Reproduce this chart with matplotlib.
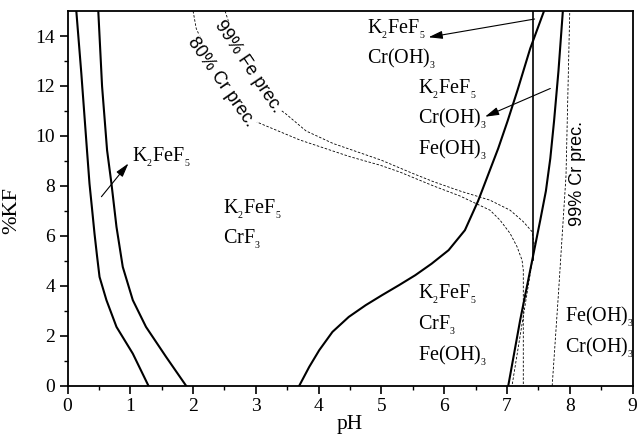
import matplotlib
matplotlib.use("Agg")
from matplotlib import pyplot as plt

# phase boundaries (pH, %KF)
left1_ph = [0.14, 0.22, 0.31, 0.35, 0.39, 0.43, 0.47, 0.51, 0.62, 0.78, 1.04, 1.29]
left1_kf = [15, 12.5, 9.43, 8.09, 7.1, 6.09, 5.2, 4.36, 3.43, 2.36, 1.29, 0]
left2_ph = [0.49, 0.55, 0.63, 0.70, 0.78, 0.88, 1.04, 1.25, 1.57, 1.89]
left2_kf = [15, 12, 9.43, 8.09, 6.36, 4.76, 3.43, 2.36, 1.16, 0]
s_ph = [3.69, 3.85, 4.01, 4.22, 4.48, 4.75, 5.01, 5.28, 5.54, 5.80, 6.07, 6.33,
        6.54, 6.70, 6.86, 7.01, 7.17, 7.37, 7.59]
s_kf = [0, 0.76, 1.43, 2.16, 2.76, 3.23, 3.63, 4.03, 4.43, 4.89, 5.43, 6.23,
        7.40, 8.45, 9.50, 10.6, 11.85, 13.5, 15]
steep_ph = [7.02, 7.21, 7.37, 7.53, 7.62, 7.69, 7.75, 7.82, 7.89]
steep_kf = [0, 2.63, 4.63, 6.63, 7.8, 9.1, 10.6, 12.6, 15]
vert_ph = [7.41, 7.41]
vert_kf = [5.05, 15]

# precipitation contours
fe99_ph = [2.51, 2.60, 2.75, 2.88, 3.05, 3.25, 3.47, 3.80, 4.23, 5.00, 5.50, 5.83,
           6.25, 6.73, 7.05, 7.26, 7.40, 7.44, 7.08]
fe99_kf = [15, 14.3, 13.5, 12.76, 12.0, 11.3, 10.9, 10.2, 9.7, 9.03, 8.5, 8.17,
           7.8, 7.43, 7.03, 6.57, 6.17, 5.57, 0]
cr80_ph = [2.00, 2.05, 2.25, 2.45, 2.70, 2.90, 3.07, 3.70, 4.50, 4.98, 5.30, 5.83,
           6.25, 6.73, 6.89, 7.05, 7.16, 7.24, 7.26, 7.26]
cr80_kf = [15, 14.3, 13.2, 12.15, 11.2, 10.7, 10.5, 9.84, 9.17, 8.83, 8.55, 8.0,
           7.6, 7.03, 6.63, 6.1, 5.57, 5.03, 4.63, 0]
cr99_ph = [7.72, 7.82, 7.94, 8.00]
cr99_kf = [0, 3.7, 8.4, 15]

# region labels: (left pH, baseline %KF of each line, lines)
regions = [
    (2.48, [6.90, 5.67], ["K$_{_2}$FeF$_{_5}$", "CrF$_{_3}$"]),
    (5.59, [3.47, 2.23, 0.98], ["K$_{_2}$FeF$_{_5}$", "CrF$_{_3}$", "Fe(OH)$_{_3}$"]),
    (7.93, [2.56, 1.31], ["Fe(OH)$_{_3}$", "Cr(OH)$_{_3}$"]),
    (4.77, [14.10, 12.90], ["K$_{_2}$FeF$_{_5}$", "Cr(OH)$_{_3}$"]),
    (5.59, [11.70, 10.50, 9.24], ["K$_{_2}$FeF$_{_5}$", "Cr(OH)$_{_3}$", "Fe(OH)$_{_3}$"]),
    (1.02, [8.97], ["K$_{_2}$FeF$_{_5}$"]),
]

# arrows: (tail, head)
arrows = [
    ((0.54, 7.57), (0.97, 8.90)),
    ((7.44, 14.68), (5.75, 13.95)),
    ((7.69, 11.90), (6.65, 10.77)),
]

plt.rcParams['font.family'] = 'Liberation Serif'
plt.rcParams['mathtext.fontset'] = 'custom'
plt.rcParams['mathtext.rm'] = 'Liberation Serif'
plt.rcParams['mathtext.it'] = 'Liberation Serif'
plt.rcParams['mathtext.default'] = 'rm'

fig = plt.figure(figsize=(6.37, 4.41), dpi=100)
ax = fig.add_axes([0.106, 0.125, 0.887, 0.850])

solid = dict(color='k', lw=1.5)
ax.plot(left1_ph, left1_kf, **solid)
ax.plot(left2_ph, left2_kf, **solid)
ax.plot(s_ph, s_kf, **solid)
ax.plot(steep_ph, steep_kf, **solid)
ax.plot(vert_ph, vert_kf, color='k', lw=1.2)

dashed = dict(color='k', lw=0.6, linestyle=(0, (3, 2)))
ax.plot(fe99_ph, fe99_kf, **dashed)
ax.plot(cr80_ph, cr80_kf, **dashed)
ax.plot(cr99_ph, cr99_kf, **dashed)

sans = dict(family='Liberation Sans', fontsize=13, ha='center', va='center',
            bbox=dict(facecolor='white', edgecolor='none', pad=0.5))
ax.text(2.88, 12.76, "99% Fe prec.", rotation=-56, rotation_mode='anchor', **sans)
ax.text(2.45, 12.15, "80% Cr prec.", rotation=-55, rotation_mode='anchor', **sans)
ax.text(8.12, 8.5, "99% Cr prec.", rotation=90, rotation_mode='anchor', **sans)

for x, ys, lines in regions:
    for y, line in zip(ys, lines):
        ax.text(x, y, line, fontsize=14.5, ha='left', va='baseline')

arrow_style = dict(arrowstyle='-|>,head_length=0.7,head_width=0.2', color='k',
                   lw=0.8, mutation_scale=12, shrinkA=0, shrinkB=0)
for tail, head in arrows:
    ax.annotate('', xy=head, xytext=tail, arrowprops=arrow_style)

ax.set_xlim(0, 9)
ax.set_ylim(0, 15)
ax.set_xticks(range(0, 10))
ax.set_yticks(range(0, 15, 2))
ax.set_xticks([i + 0.5 for i in range(9)], minor=True)
ax.set_yticks(range(1, 15, 2), minor=True)
ax.tick_params(which='major', direction='out', length=5.5, width=1.2, labelsize=14)
ax.tick_params(which='minor', direction='out', length=3, width=1.0)
ax.tick_params(top=False, right=False, which='both')
for spine in ax.spines.values():
    spine.set_linewidth(1.3)

ax.set_xlabel('pH', fontsize=15.5, labelpad=0)
ax.set_ylabel('%KF', fontsize=16)
ax.yaxis.set_label_coords(-0.082, 0.469)

fig.savefig('out.png', dpi=100)
